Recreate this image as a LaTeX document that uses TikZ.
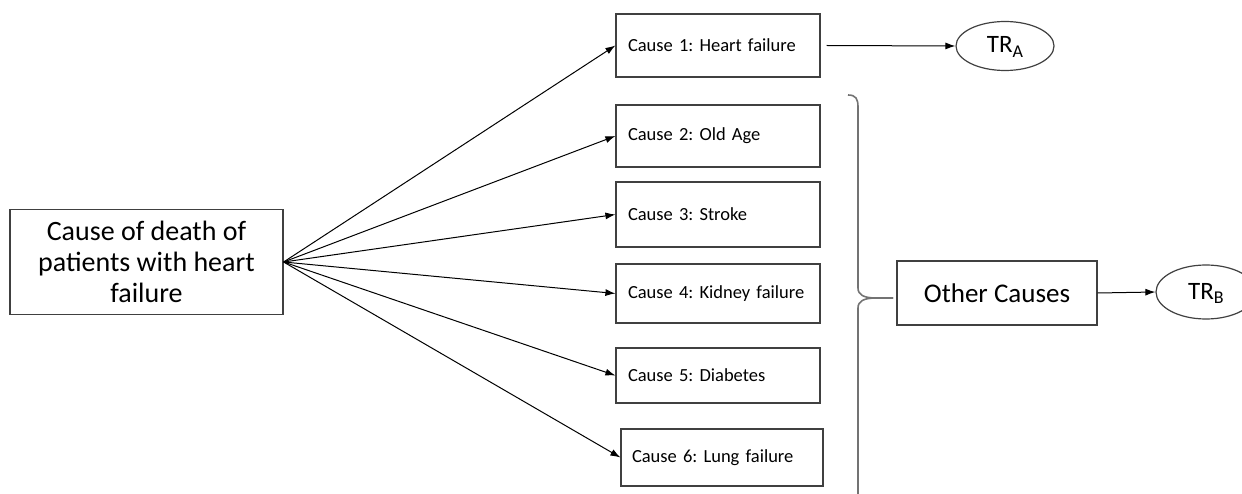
\documentclass[tikz,border=0pt]{standalone}
\usepackage{fontspec}
\setmainfont{Carlito}
\usetikzlibrary{arrows.meta,shapes.geometric}
\newcommand{\trlabel}[1]{\raisebox{-7pt}[0pt][0pt]{\fontsize{25}{28}\selectfont TR\raisebox{-5pt}{\fontsize{18}{20}\selectfont #1}}}
\begin{document}
\frenchspacing
\begin{tikzpicture}[x=1pt,y=-1pt,
  box/.style={draw=black!75,line width=1.2pt,rectangle,align=center,inner sep=0pt},
  cbox/.style={box,minimum width=204pt,minimum height=62pt,font=\fontsize{18.5}{22}\selectfont,text width=180pt,align=left},
  oval/.style={draw=black!75,line width=1.2pt,ellipse,minimum width=98pt,minimum height=49pt,inner sep=0pt},
  arr/.style={-{Latex[length=10pt,width=7pt]},line width=1pt,black},
  brace/.style={draw=black!55,line width=1.6pt}]
\useasboundingbox (0,0) rectangle (1242,494);
\clip (0,0) rectangle (1242,494);
\node[box,minimum width=273pt,minimum height=105pt,font=\fontsize{28}{31}\selectfont] (main) at (146.5,262) {Cause of death of\\patients with heart\\failure};
\node[cbox,minimum height=63pt] (c1) at (718,45.5) {Cause 1: Heart failure};
\node[cbox,minimum height=62pt] (c2) at (718,136) {Cause 2: Old Age};
\node[cbox,minimum height=65pt] (c3) at (718,214.5) {Cause 3: Stroke};
\node[cbox,minimum height=59pt] (c4) at (718,293.5) {Cause 4: Kidney failure};
\node[cbox,minimum height=55pt] (c5) at (718,375.5) {Cause 5: Diabetes};
\node[cbox,minimum width=202pt,minimum height=57pt,text width=180pt] (c6) at (722,457.5) {Cause 6: Lung failure};
\node[box,minimum width=200pt,minimum height=64pt,font=\fontsize{27}{30}\selectfont] (oc) at (997,293) {Other Causes};
\node[oval] (tra) at (1005,46) {\trlabel{A}};
\node[oval,minimum height=54pt,minimum width=100pt] (trb) at (1206,292) {\trlabel{B}};
\foreach \c in {c1,c2,c3,c4,c5,c6} \draw[arr] (main.east) -- (\c.west);
\draw[arr] ([xshift=6pt]c1.east) -- (tra.west);
\draw[arr] (oc.east) -- (trb.west);
\coordinate (btop) at (848,95);
\coordinate (btip) at (893,298);
\coordinate (bbot) at (858,520);
\draw[brace] (btop) .. controls (856,95) and (858,99) .. (858,107) -- (858,288) .. controls (858,295) and (864,298) .. (876,298) -- (btip);
\draw[brace] (btip) -- (876,298) .. controls (864,298) and (858,301) .. (858,308) -- (bbot);
\end{tikzpicture}
\end{document}
